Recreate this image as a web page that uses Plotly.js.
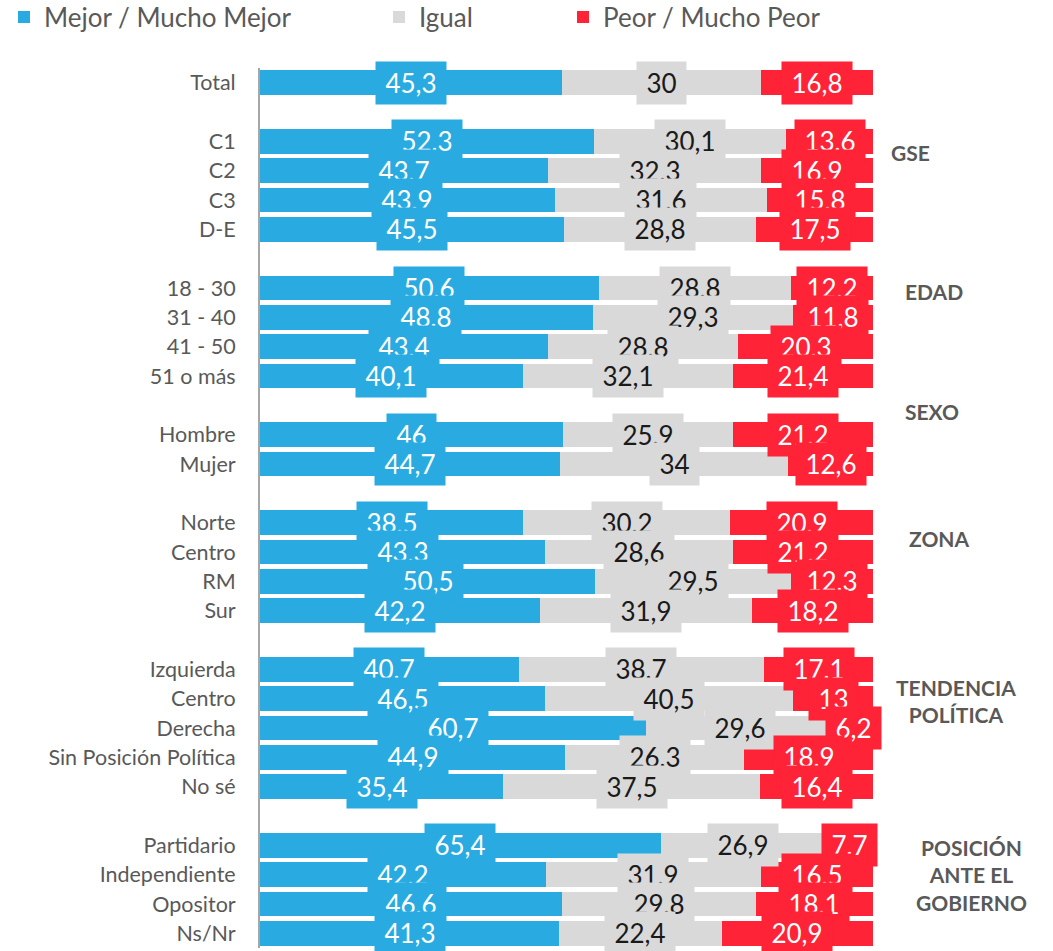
<!DOCTYPE html>
<html><head><meta charset="utf-8">
<script src="https://cdn.plot.ly/plotly-3.0.1.min.js"></script>
<style>html,body{margin:0;padding:0;background:#fff}</style>
</head><body><div id="chart" style="width:1053px;height:951px"></div>
<script>
const seriesNames = ['Mejor / Mucho Mejor', 'Igual', 'Peor / Mucho Peor'];
const groupNames = ['', 'GSE', 'EDAD', 'SEXO', 'ZONA', 'TENDENCIA<br>POLÍTICA', 'POSICIÓN<br>ANTE EL<br>GOBIERNO'];
const groupSizes = [1, 4, 4, 2, 4, 5, 4];
const categories = ['Total',
  'C1', 'C2', 'C3', 'D-E',
  '18 - 30', '31 - 40', '41 - 50', '51 o más',
  'Hombre', 'Mujer',
  'Norte', 'Centro', 'RM', 'Sur',
  'Izquierda', 'Centro', 'Derecha', 'Sin Posición Política', 'No sé',
  'Partidario', 'Independiente', 'Opositor', 'Ns/Nr'];
const mejor = [45.3, 52.3, 43.7, 43.9, 45.5, 50.6, 48.8, 43.4, 40.1, 46, 44.7, 38.5, 43.3, 50.5, 42.2, 40.7, 46.5, 60.7, 44.9, 35.4, 65.4, 42.2, 46.6, 41.3];
const igual = [30, 30.1, 32.3, 31.6, 28.8, 28.8, 29.3, 28.8, 32.1, 25.9, 34, 30.2, 28.6, 29.5, 31.9, 38.7, 40.5, 29.6, 26.3, 37.5, 26.9, 31.9, 29.8, 22.4];
const peor = [16.8, 13.6, 16.9, 15.8, 17.5, 12.2, 11.8, 20.3, 21.4, 21.2, 12.6, 20.9, 21.2, 12.3, 18.2, 17.1, 13, 6.2, 18.9, 16.4, 7.7, 16.5, 18.1, 20.9];

// styling
const colors = ['#29ABE2', '#D9D9D9', '#FF2337'];
const textColors = ['#FFFFFF', '#1A1A1A', '#FFFFFF'];
const FONT = 'Lato, Carlito, "Open Sans", sans-serif';
const LABEL_SIZE = 26;
// group label placement (offset in rows from group's first row, pixel x center)
const groupYOffset = [0, 0.37, 0.11, -0.8, 0.55, 1.08, 1.0];
const groupXpx = [0, 910, 934, 932, 939, 956, 971];

const W = 1053, H = 951, ML = 260, MR = 180, MT = 68, MB = 3;
const PW = W - ML - MR;

// rows: one blank row between groups
const rowPos = [];
const groupStart = [];
let r = 0;
groupSizes.forEach((n) => { groupStart.push(r); for (let k = 0; k < n; k++) rowPos.push(r++); r++; });
const nRows = r - 1;

const values = [mejor, igual, peor];
const traces = values.map((v, s) => ({
  type: 'bar', orientation: 'h', x: v, y: rowPos, name: seriesNames[s],
  marker: { color: colors[s], line: { width: 0 } },
  legend: s === 0 ? 'legend' : 'legend' + (s + 1),
  hoverinfo: 'skip'
}));

const ctx = document.createElement('canvas').getContext('2d');
ctx.font = LABEL_SIZE + 'px Lato';
const fmt = (v) => String(v).replace('.', ',');

const annotations = [];
values.forEach((v, s) => {
  v.forEach((val, i) => {
    const total = mejor[i] + igual[i] + peor[i];
    let before = 0;
    for (let k = 0; k < s; k++) before += values[k][i];
    const xc = (before + val / 2) / total * 100;
    const txt = fmt(val);
    annotations.push({
      x: xc, y: rowPos[i], xref: 'x', yref: 'y', text: txt, showarrow: false,
      xanchor: 'center', yanchor: 'middle',
      font: { family: FONT, size: LABEL_SIZE, color: textColors[s] },
      bgcolor: colors[s], borderpad: 4,
      width: Math.ceil(ctx.measureText(txt).width) + 10, height: 34
    });
  });
});
groupNames.forEach((g, gi) => {
  if (!g) return;
  annotations.push({
    x: (groupXpx[gi] - ML) / PW, xref: 'paper',
    y: groupStart[gi] + groupYOffset[gi], yref: 'y',
    text: '<b>' + g + '</b>', showarrow: false, xanchor: 'center', yanchor: 'middle',
    align: 'center', font: { family: FONT, size: 21, color: '#595959' }
  });
});

const legendBase = {
  orientation: 'h', xref: 'container', yref: 'container', xanchor: 'left', yanchor: 'middle',
  y: 1 - 17 / H, font: { family: FONT, size: 26, color: '#595959' }, bgcolor: 'rgba(0,0,0,0)', borderwidth: 0
};

const layout = {
  width: W, height: H,
  margin: { l: ML, r: MR, t: MT, b: MB, autoexpand: false },
  paper_bgcolor: '#FFFFFF', plot_bgcolor: '#FFFFFF',
  barmode: 'stack', barnorm: 'percent', bargap: 0.17,
  showlegend: true,
  legend: Object.assign({}, legendBase, { x: 4 / W }),
  legend2: Object.assign({}, legendBase, { x: 379 / W }),
  legend3: Object.assign({}, legendBase, { x: 563 / W }),
  xaxis: { range: [0, 100], visible: false, fixedrange: true },
  yaxis: {
    tickvals: rowPos, ticktext: categories, range: [nRows - 0.5, -0.5], autorange: false,
    showline: true, linecolor: '#A6A6A6', linewidth: 2, showgrid: false, zeroline: false,
    ticks: '', ticklabelstandoff: 18,
    tickfont: { family: FONT, size: 21.5, color: '#595959' }, fixedrange: true
  },
  annotations: annotations,
  font: { family: FONT }
};

Plotly.newPlot('chart', traces, layout, { displayModeBar: false, staticPlot: true });
</script>
</body></html>
